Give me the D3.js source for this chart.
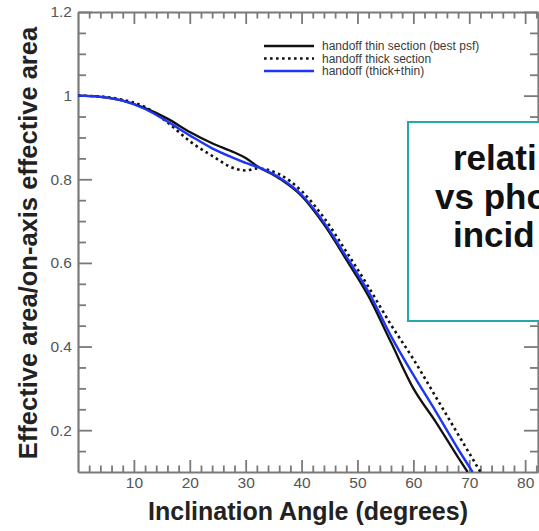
<!DOCTYPE html>
<html>
<head>
<meta charset="utf-8">
<script src="https://cdn.jsdelivr.net/npm/d3@7"></script>
<style>
  html, body { margin: 0; padding: 0; background: #fff; }
  svg { display: block; }
  text { font-family: "Liberation Sans", Arial, sans-serif; }
</style>
</head>
<body>
<script>
// ---- data ----
const angles = [0, 4, 8, 12, 16, 20, 24, 28, 30, 32, 36, 40, 44, 48, 52, 56, 60, 64, 68];
const thinSection = [1.0, 0.997, 0.988, 0.970, 0.945, 0.913, 0.886, 0.864, 0.851, 0.832, 0.802, 0.760, 0.692, 0.608, 0.520, 0.410, 0.300, 0.220, 0.135];
const thickSection = [1.0, 0.998, 0.990, 0.973, 0.936, 0.891, 0.856, 0.826, 0.821, 0.826, 0.812, 0.772, 0.708, 0.627, 0.542, 0.452, 0.370, 0.280, 0.190];
const thickPlusThin = [1.0, 0.997, 0.988, 0.968, 0.938, 0.905, 0.874, 0.850, 0.839, 0.830, 0.804, 0.763, 0.697, 0.615, 0.530, 0.425, 0.332, 0.245, 0.155];
const endAngles = [69.7, 72.0, 70.6];   // where each curve reaches 0.1
const endValue = 0.1;
const seriesNames = ["handoff thin section (best psf)", "handoff thick section", "handoff (thick+thin)"];
const xTickValues = [10, 20, 30, 40, 50, 60, 70, 80];
const yTickValues = [0.2, 0.4, 0.6, 0.8, 1, 1.2];
const yTickLabels = ["0.2", "0.4", "0.6", "0.8", "1", "1.2"];
const xTitle = "Inclination Angle (degrees)";
const yTitle = "Effective area/on-axis effective area";
const boxLines = ["relati", "vs pho", "incid"];   // only the part visible in the reference

// ---- layout ----
const W = 539, H = 531;
const pL = 78, pR = 538, pT = 12, pB = 472;
const axisColor = "#7a7a7a";
const labelColor = "#555";

const svg = d3.select("body").append("svg").attr("width", W).attr("height", H);

const x = d3.scaleLinear().domain([0, 82.3]).range([pL, pR]);
const y = d3.scaleLinear().domain([0.1, 1.2]).range([pB, pT]);

const xMinor = d3.range(2, 83, 2).filter(v => v % 10 !== 0);
const yMinor = d3.range(0.15, 1.2, 0.05).map(v => +v.toFixed(2)).filter(v => Math.abs(v * 5 - Math.round(v * 5)) > 1e-6);

svg.append("defs").append("clipPath").attr("id", "plotclip")
  .append("rect").attr("x", pL).attr("y", pT).attr("width", pR - pL).attr("height", pB - pT);

// ---- axes ----
function styleAxis(g) {
  g.select(".domain").attr("stroke", axisColor).attr("stroke-width", 2.2);
  g.selectAll(".tick line").attr("stroke", axisColor).attr("stroke-width", 1.8);
}
function minorStyle(g) {
  g.select(".domain").remove();
  g.selectAll(".tick line").attr("stroke", axisColor).attr("stroke-width", 1.8);
}

// bottom
const gxB = svg.append("g").attr("transform", `translate(0,${pB})`)
  .call(d3.axisBottom(x).tickValues(xTickValues).tickSize(-12).tickSizeOuter(0).tickFormat(d3.format("d")));
styleAxis(gxB);
gxB.selectAll(".tick text").attr("fill", labelColor).attr("font-size", 15.5).attr("y", 5);
svg.append("g").attr("transform", `translate(0,${pB})`)
  .call(d3.axisBottom(x).tickValues(xMinor).tickSize(-6.5).tickSizeOuter(0).tickFormat(""))
  .call(minorStyle);

// top
const gxT = svg.append("g").attr("transform", `translate(0,${pT})`)
  .call(d3.axisTop(x).tickValues(xTickValues).tickSize(-12).tickSizeOuter(0).tickFormat(""));
styleAxis(gxT);
svg.append("g").attr("transform", `translate(0,${pT})`)
  .call(d3.axisTop(x).tickValues(xMinor).tickSize(-6.5).tickSizeOuter(0).tickFormat(""))
  .call(minorStyle);

// left
const gyL = svg.append("g").attr("transform", `translate(${pL},0)`)
  .call(d3.axisLeft(y).tickValues(yTickValues).tickSize(-14).tickSizeOuter(0)
    .tickFormat((d, i) => yTickLabels[i]));
styleAxis(gyL);
gyL.selectAll(".tick text").attr("fill", labelColor).attr("font-size", 15.5).attr("x", -6);
svg.append("g").attr("transform", `translate(${pL},0)`)
  .call(d3.axisLeft(y).tickValues(yMinor).tickSize(-8).tickSizeOuter(0).tickFormat(""))
  .call(minorStyle);

// right
const gyR = svg.append("g").attr("transform", `translate(${pR},0)`)
  .call(d3.axisRight(y).tickValues(yTickValues).tickSize(-14).tickSizeOuter(0).tickFormat(""));
styleAxis(gyR);
svg.append("g").attr("transform", `translate(${pR},0)`)
  .call(d3.axisRight(y).tickValues(yMinor).tickSize(-8).tickSizeOuter(0).tickFormat(""))
  .call(minorStyle);

// ---- curves ----
const seriesValues = [thinSection, thickSection, thickPlusThin];
const seriesStyle = [
  { color: "#111", width: 2.3, dash: null },
  { color: "#111", width: 2.6, dash: "2.6,3.4" },
  { color: "#1f35f5", width: 2.4, dash: null }
];
const line = d3.line().x(d => x(d[0])).y(d => y(d[1])).curve(d3.curveMonotoneX);
const plot = svg.append("g").attr("clip-path", "url(#plotclip)");
[1, 0, 2].forEach(i => {
  const pts = angles.map((a, j) => [a, seriesValues[i][j]]);
  pts.push([endAngles[i], endValue]);
  plot.append("path").datum(pts)
    .attr("d", line)
    .attr("fill", "none")
    .attr("stroke", seriesStyle[i].color)
    .attr("stroke-width", seriesStyle[i].width)
    .attr("stroke-dasharray", seriesStyle[i].dash)
    .attr("stroke-linejoin", "round");
});

// ---- legend ----
const legRows = [46, 58.5, 71];
const leg = svg.append("g");
seriesNames.forEach((name, i) => {
  leg.append("line").attr("x1", 264).attr("x2", 314).attr("y1", legRows[i]).attr("y2", legRows[i])
    .attr("stroke", seriesStyle[i].color).attr("stroke-width", seriesStyle[i].width)
    .attr("stroke-dasharray", seriesStyle[i].dash);
  leg.append("text").attr("x", 322).attr("y", legRows[i] + 4.2).attr("font-size", 12)
    .attr("fill", "#3a3a3a").text(name);
});

// ---- axis titles ----
svg.append("text").attr("x", 308).attr("y", 520).attr("text-anchor", "middle")
  .attr("font-size", 25).attr("font-weight", "bold").attr("fill", "#222").text(xTitle);
svg.append("text").attr("transform", `translate(37,243) rotate(-90)`).attr("text-anchor", "middle")
  .attr("font-size", 25.5).attr("font-weight", "bold").attr("fill", "#222").text(yTitle);

// ---- overlay text box ----
svg.append("rect").attr("x", 408).attr("y", 122).attr("width", 200).attr("height", 199)
  .attr("fill", "#fff").attr("stroke", "#22a9a9").attr("stroke-width", 2);
const boxX = [453, 435, 453];
const boxY = [170, 208.5, 247];
boxLines.forEach((t, i) => {
  svg.append("text").attr("x", boxX[i]).attr("y", boxY[i]).attr("font-size", 35)
    .attr("font-weight", "bold").attr("fill", "#111").text(t);
});
</script>
</body>
</html>
